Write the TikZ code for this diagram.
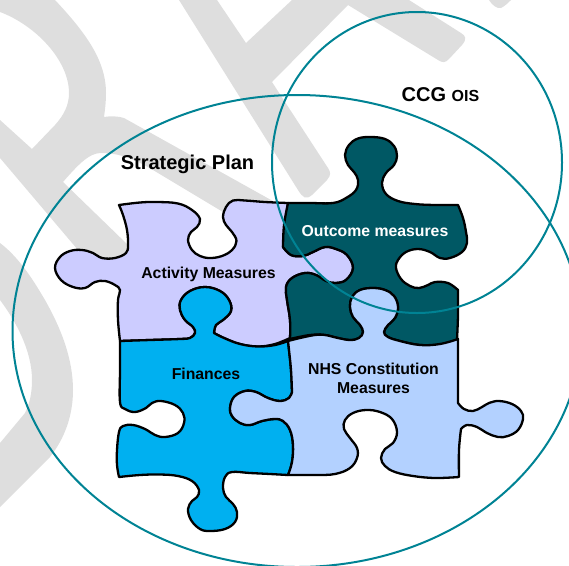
\documentclass[tikz,border=0pt]{standalone}
\usepackage{fontspec}
\setmainfont{Liberation Sans}
\definecolor{wm}{HTML}{DEDEDE}
\definecolor{lilac}{HTML}{CCCCFF}
\definecolor{sky}{HTML}{00B0F0}
\definecolor{deep}{HTML}{005864}
\definecolor{pale}{HTML}{B3D1FF}
\definecolor{teal2}{HTML}{008394}
\tikzset{
  piece/.style={draw=black,line width=2.3pt,line join=round},
  ring/.style={draw=teal2,line width=2pt},
  smoothrun/.style={smooth,tension=0.65},
  lbl/.style={inner sep=0pt,text=black,align=center},
  bigt/.style={font=\fontsize{20}{24}\selectfont\bfseries},
  smallt/.style={font=\fontsize{15.8}{19}\selectfont\bfseries}
}
\begin{document}
\begin{tikzpicture}[x=1pt,y=-1pt]
\useasboundingbox (0,0) rectangle (569,565);
% watermark
\fill[wm] (179,0) -- (298,190) .. controls (303,198) and (306,200) .. (312,195)
  -- (327,180) .. controls (331,175) and (331,173) .. (328,168) -- (272,82) -- (348,5)
  -- (438,60) .. controls (443,63) and (445,63) .. (449,59) -- (462,45) .. controls (467,39) and (466,36) .. (461,33)
  -- (409,0) -- (292,0) -- (246,43) -- (217,0) -- cycle;
\fill[wm] (489,0) .. controls (492,5) and (497,9) .. (501,8) .. controls (505,6) and (508,3) .. (511,0) -- cycle;
\fill[wm] (55,0) .. controls (85,32) and (106,60) .. (106,93) .. controls (106,102) and (105,110) .. (104,117)
  .. controls (110,116) and (118,116) .. (124,118) -- (280,205) -- (223,212) -- (153,170)
  .. controls (130,156) and (115,153) .. (100,153) .. controls (90,154) and (82,160) .. (63,182)
  -- (128,245) -- (120,290) -- (78,250) -- (0,158) -- (0,120) -- (32,149) -- (55,125)
  .. controls (64,115) and (69,105) .. (69,93) .. controls (69,60) and (35,25) .. (0,12) -- (0,0) -- cycle;
\fill[wm] (0,243) .. controls (20,258) and (35,283) .. (45,300) .. controls (62,330) and (73,360) .. (73,390)
  .. controls (73,415) and (65,438) .. (50,457) -- (0,507) -- (0,443) -- (25,413)
  .. controls (30,403) and (32,392) .. (32,380) .. controls (32,350) and (15,320) .. (0,300) -- cycle;
% pieces
\path[piece,fill=lilac] plot[smoothrun] coordinates {(119,205) (140,202.5) (157,202) (178,203.5) (192,210) (200,219) (197,227) (191,232) (188,240) (192,250) (200,256) (210,258) (222,256) (232,250) (236.5,241) (232,232) (226,225) (223,217) (226,207) (233,200.5) (245,200.5) (265,202) (288,203)}
  -- (283,247)
  -- plot[smoothrun] coordinates {(283,247) (291,255) (303,256) (313,252) (325,247) (336,249) (347,255) (353,268) (346,280) (335,283) (326,281) (316,275) (305,273) (292,278) (286,287) (287,300) (290,320) (290,339)}
  -- plot[smoothrun] coordinates {(290,338) (275,344) (258,346.5) (240,344) (224,338) (214,333)}
  -- plot[smoothrun] coordinates {(214,333) (216,325) (223,320) (231,311) (229,300) (220,291) (205,287) (190,291) (181,300) (180,310) (185,320) (193,327) (195,333) (190,338) (180,339) (150,340) (120,341)}
  -- plot[smoothrun] coordinates {(120,341) (118,320) (118,300) (120,290) (115,285) (105,281) (95,282) (85,288) (73,287) (61,280) (55,268) (60,257) (70,251) (82,250) (93,253) (102,258) (115,258) (126,253) (128,245) (127,230) (123,215) (119,205)} -- cycle;
\path[piece,fill=sky] plot[smoothrun] coordinates {(214,333) (216,325) (223,320) (231,311) (229,300) (220,291) (205,287) (190,291) (181,300) (180,310) (185,320) (193,327) (195,333) (190,338) (180,339) (150,340) (120,341)}
  -- plot[smoothrun] coordinates {(120,341) (120,370) (120,402) (125,409) (135,412) (146,408) (152,403) (161,401) (175,405) (183,413) (184,423) (178,433) (165,437) (155,435) (145,429) (133,425) (123,426) (119,432)  (117,450) (117,465) (119,477)}
  -- plot[smoothrun] coordinates {(119,477) (140,475) (160,474.5) (178,476) (192,481) (199,490) (197,497) (192,501) (188,509) (191,520) (200,529) (210,531) (225,529) (235,522) (237,512) (233,504) (226,497) (223,488) (225,477) (232,472) (250,473) (270,474) (288,475)}
  -- plot[smoothrun] coordinates {(288,475) (292,462) (293,445) (290,430) (283,421) (275,419) (262,421) (250,425) (240,423) (232,416) (230,408) (234,397) (245,391) (256,392) (268,398) (280,401) (289,398) (292,392)}
  -- plot[smoothrun] coordinates {(292,392) (291,370) (289,350) (288,341)}
  -- plot[smoothrun] coordinates {(288,341) (275,345) (258,346.5) (240,344) (224,338) (214,333)} -- cycle;
\path[piece,fill=deep] plot[smoothrun] coordinates {(288,203) (310,203) (333,203) (346,198) (356,190) (358,180) (354,172) (348,165) (345,155) (349,145) (358,138.5) (371,137) (385,139) (394,146) (397,156) (394,165) (386,173) (382,183) (386,194) (398,201) (415,204) (435,205) (458,205)}
  -- plot[smoothrun] coordinates {(458,205) (463,218) (466,232) (467,243) (462,252) (450,258) (440,258) (430,252) (418,249) (406,252) (398,260) (396,268) (401,279) (410,286) (419,288) (428,285) (435,282) (448,283) (458,290)}
  -- plot[smoothrun] coordinates {(458,290) (458,315) (457,340)}
  -- plot[smoothrun] coordinates {(457,340) (440,344.5) (420,345) (400,341) (388,337) (384,332) (388,325) (395,318) (398,307) (394,296) (385,290) (373,288) (360,290) (352,297) (350,307) (353,317) (360,325) (363,332) (359,338) (350,340) (338,338) (325,335) (310,335) (290,339)}
  -- plot[smoothrun] coordinates {(290,339) (290,320) (287,300) (286,287) (292,278) (305,273) (316,275) (326,281) (335,283) (346,280) (353,268) (347,255) (336,249) (325,247) (313,252) (303,256) (291,255) (283,247)}
  -- plot[smoothrun] coordinates {(283,247) (284,225) (288,203)} -- cycle;
\path[piece,fill=pale] plot[smoothrun] coordinates {(288,341) (300,338) (315,335) (325,335) (338,338) (350,340) (359,338) (363,332) (360,325) (353,317) (350,307) (352,297) (360,290) (373,288) (385,290) (394,296) (398,307) (395,318) (388,325) (384,332) (388,337) (400,341) (420,345) (440,344) (458,339)}
  -- plot[smoothrun] coordinates {(458,339) (458,370) (458,403)}
  -- plot[smoothrun] coordinates {(458,403) (464,409) (473,411) (482,407) (489,403) (499,401) (512,404) (521,411) (523,419) (518,430) (508,436) (498,437) (487,433) (477,427) (467,425) (461,429)}
  -- plot[smoothrun] coordinates {(461,429) (459,450) (459,477)}
  -- plot[smoothrun] coordinates {(459,477) (435,478) (413,476) (395,472) (385,466) (381,458) (385,449) (393,443) (397,432) (392,419) (380,412) (366,410) (353,413) (345,420) (344,429) (350,438) (357,448) (357,458) (350,468) (335,474) (315,475) (288,475)}
  -- plot[smoothrun] coordinates {(288,475) (292,462) (293,445) (290,430) (283,421) (275,419) (262,421) (250,425) (240,423) (232,416) (230,408) (234,397) (245,391) (256,392) (268,398) (280,401) (289,398) (292,392)}
  -- plot[smoothrun] coordinates {(292,392) (291,370) (289,350) (288,341)} -- cycle;
% rings
\draw[ring] (297,331) ellipse [x radius=284.5,y radius=236];
\draw[ring] (417,162.5) ellipse [x radius=145,y radius=150.5];
% labels
\node[lbl,bigt] (sp) at (187.5,164) {Strategic Plan};
\node[lbl,anchor=base] (ois) at (440.5,101) {\fontsize{20}{24}\selectfont\bfseries CCG \fontsize{16}{19}\selectfont OIS};
\node[lbl,smallt] (act) at (208.5,274) {Activity Measures};
\node[lbl,smallt,text=white] (out) at (375,231) {Outcome measures};
\node[lbl,smallt] (fin) at (206,374) {Finances};
\node[lbl,smallt] (nhs) at (373.5,378.5) {NHS Constitution\\Measures};
\end{tikzpicture}
\end{document}
